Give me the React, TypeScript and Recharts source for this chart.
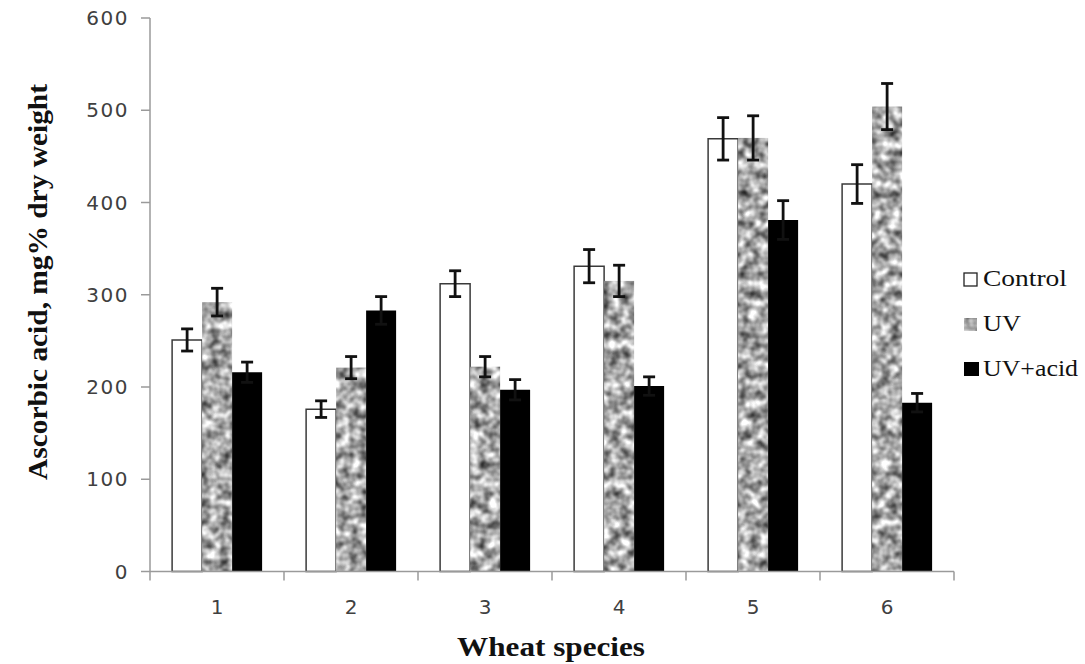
import React from 'react';
import { BarChart, Bar, XAxis, YAxis, ErrorBar } from 'recharts';

const categories = ['1', '2', '3', '4', '5', '6'];
const controlValues = [251, 176, 312, 331, 469, 420];
const controlErrors = [12, 9, 14, 18, 23, 21];
const uvValues = [292, 221, 222, 315, 470, 504];
const uvErrors = [15, 12, 11, 17, 24, 25];
const acidValues = [216, 283, 197, 201, 381, 183];
const acidErrors = [11, 15, 11, 10, 21, 10];
const yTicks = [0, 100, 200, 300, 400, 500, 600];
const seriesNames = ['Control', 'UV', 'UV+acid'];

const data = categories.map((c, i) => ({
  name: c,
  control: controlValues[i],
  controlErr: controlErrors[i],
  uv: uvValues[i],
  uvErr: uvErrors[i],
  acid: acidValues[i],
  acidErr: acidErrors[i],
}));

const W = 1085;
const H = 664;
const PLOT_LEFT = 150;
const PLOT_RIGHT = 954;
const PLOT_TOP = 18;
const PLOT_BOTTOM = 571.5;
const X_AXIS_H = 60;
const BAND = (PLOT_RIGHT - PLOT_LEFT) / categories.length;

const AXIS_COLOR = '#9a9a9a';
const TICK_COLOR = '#404040';
const SERIF = '"Liberation Serif", "Times New Roman", serif';
const SANS = '"DejaVu Sans", sans-serif';

const XTick = (props: any) => {
  const { x, y, payload, index } = props;
  const isLast = index === categories.length - 1;
  return (
    <g>
      <line x1={x - BAND / 2} x2={x - BAND / 2} y1={y} y2={y + 9} stroke={AXIS_COLOR} strokeWidth={1.5} />
      {isLast && (
        <line x1={x + BAND / 2} x2={x + BAND / 2} y1={y} y2={y + 9} stroke={AXIS_COLOR} strokeWidth={1.5} />
      )}
      <text x={x} y={y + 42} textAnchor="middle" fill={TICK_COLOR} fontSize={20} fontFamily={SANS}>
        {payload.value}
      </text>
    </g>
  );
};

const UVShape = (props: any) => {
  const { x, y, width, height } = props;
  if (height <= 0) return null;
  return <rect x={x} y={y} width={width} height={height} fill="#a9a9a9" filter="url(#uvNoise)" />;
};

export default function App() {
  const legendX = 964;
  const textX = 983;
  const baselines = [286, 331, 376];
  const textLens = [84, 38, 95];
  return (
    <div style={{ position: 'absolute', left: 0, top: 0, width: W, height: H, background: '#fff' }}>
      <BarChart
        width={W}
        height={H}
        data={data}
        margin={{ top: PLOT_TOP, right: W - PLOT_RIGHT, bottom: H - PLOT_BOTTOM - X_AXIS_H, left: 0 }}
        barCategoryGap="16.5%"
        barGap={0}
      >
        <defs>
          <filter
            id="uvNoise"
            x="0"
            y="0"
            width="1"
            height="1"
            filterUnits="objectBoundingBox"
            primitiveUnits="userSpaceOnUse"
            colorInterpolationFilters="sRGB"
          >
            <feTurbulence type="fractalNoise" baseFrequency="0.1" numOctaves={2} seed={11} result="noise" />
            <feColorMatrix
              in="noise"
              type="matrix"
              values="1.25 0 0 0 0.04  1.25 0 0 0 0.04  1.25 0 0 0 0.04  0 0 0 0 1"
              result="gray"
            />
            <feGaussianBlur in="gray" stdDeviation="0.7" result="soft" />
            <feComposite in="soft" in2="SourceGraphic" operator="in" />
          </filter>
        </defs>
        <XAxis
          dataKey="name"
          height={X_AXIS_H}
          axisLine={{ stroke: AXIS_COLOR, strokeWidth: 1.5 }}
          tickLine={false}
          tickSize={0}
          tickMargin={0}
          tick={<XTick />}
          interval={0}
        />
        <YAxis
          width={PLOT_LEFT}
          domain={[0, 600]}
          ticks={yTicks}
          interval={0}
          axisLine={{ stroke: AXIS_COLOR, strokeWidth: 1.5 }}
          tickLine={{ stroke: AXIS_COLOR, strokeWidth: 1.5 }}
          tickSize={9}
          tickMargin={12}
          tick={{ fill: TICK_COLOR, fontSize: 20, fontFamily: SANS, letterSpacing: 1.5 }}
        />
        <Bar dataKey="control" name={seriesNames[0]} fill="#ffffff" stroke="#3a3a3a" strokeWidth={1.5} isAnimationActive={false}>
          <ErrorBar dataKey="controlErr" width={6} strokeWidth={2.8} stroke="#111" />
        </Bar>
        <Bar dataKey="uv" name={seriesNames[1]} shape={<UVShape />} isAnimationActive={false}>
          <ErrorBar dataKey="uvErr" width={6} strokeWidth={2.8} stroke="#111" />
        </Bar>
        <Bar dataKey="acid" name={seriesNames[2]} fill="#000000" isAnimationActive={false}>
          <ErrorBar dataKey="acidErr" width={6} strokeWidth={2.8} stroke="#111" />
        </Bar>

        <text
          x={(PLOT_LEFT + PLOT_RIGHT) / 2 - 1}
          y={656}
          textAnchor="middle"
          fontFamily={SERIF}
          fontWeight="bold"
          fontSize={27}
          fill="#111"
          textLength={188}
          lengthAdjust="spacingAndGlyphs"
        >
          Wheat species
        </text>
        <text
          x={0}
          y={0}
          transform="translate(47,282) rotate(-90)"
          textAnchor="middle"
          fontFamily={SERIF}
          fontWeight="bold"
          fontSize={28}
          fill="#111"
          textLength={396}
          lengthAdjust="spacingAndGlyphs"
        >
          Ascorbic acid, mg% dry weight
        </text>

        <g>
          <rect x={legendX} y={baselines[0] - 13} width={13} height={13} fill="#fff" stroke="#222" strokeWidth={1.3} />
          <rect x={legendX} y={baselines[1] - 13} width={13} height={13} fill="#b5b5b5" filter="url(#uvNoise)" />
          <rect x={legendX} y={baselines[2] - 14} width={15} height={14} fill="#000" />
          {seriesNames.map((n, i) => (
            <text
              key={n}
              x={textX}
              y={baselines[i]}
              fontFamily={SERIF}
              fontSize={24}
              fill="#111"
              textLength={textLens[i]}
              lengthAdjust="spacingAndGlyphs"
            >
              {n}
            </text>
          ))}
        </g>
      </BarChart>
    </div>
  );
}
